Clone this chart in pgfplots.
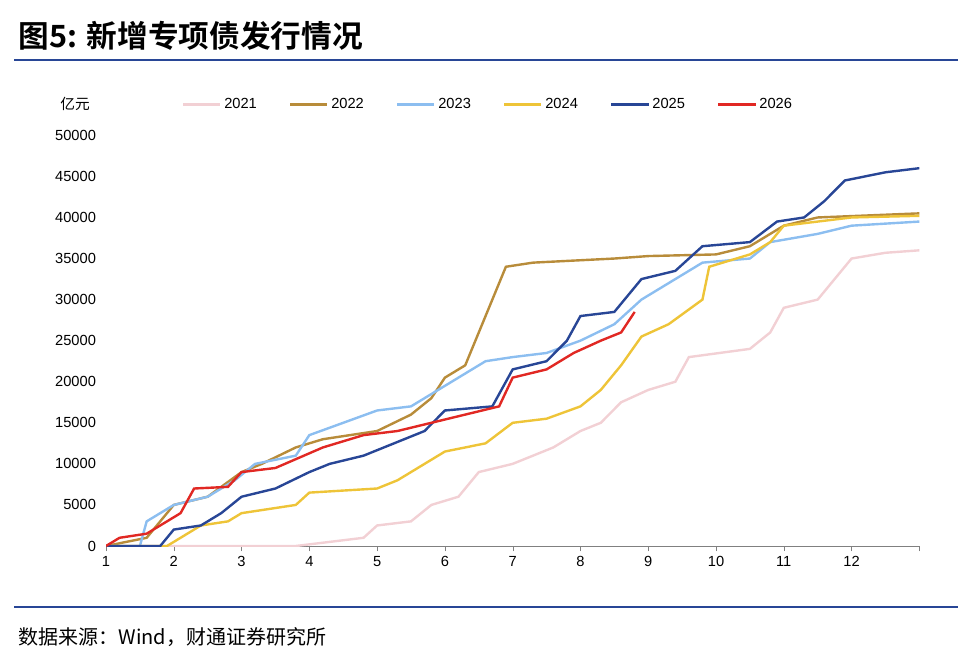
\documentclass[border=0pt]{standalone}
\usepackage{pgfplots}
\pgfplotsset{compat=1.18}
\usepackage{fontspec}
\setmainfont{Liberation Sans}
\newfontfamily\cjk{Noto Sans CJK SC}
\newfontfamily\cjkb{Noto Sans CJK SC Bold}
\definecolor{c21}{RGB}{242,208,212}
\definecolor{c22}{RGB}{184,140,58}
\definecolor{c23}{RGB}{140,190,240}
\definecolor{c24}{RGB}{238,196,56}
\definecolor{c25}{RGB}{40,70,150}
\definecolor{c26}{RGB}{225,40,35}
\definecolor{rule}{RGB}{40,70,150}
\begin{document}
\begin{tikzpicture}[x=0.75pt,y=0.75pt]
\path (0,0) rectangle (980,664);
\node[anchor=west] at (14,628) {\cjkb\fontsize{23}{26}\selectfont 图5: 新增专项债发行情况};
\draw[rule,line width=1.2pt] (14,604) -- (958,604);
\draw[rule,line width=1.2pt] (14,57) -- (958,57);
\node[anchor=west] at (14,27) {\cjk\fontsize{15}{18}\selectfont 数据来源：Wind，财通证券研究所};
\node at (75,560) {\cjk\fontsize{11}{13}\selectfont 亿元};
\begin{axis}[at={(79.5pt,88.5pt)},anchor=south west,scale only axis,width=610pt,height=308pt,
 xmin=1,xmax=13,ymin=0,ymax=50000,
 xtick={1,...,13},xticklabels={1,2,3,4,5,6,7,8,9,10,11,12,},ytick={0,5000,...,50000},
 axis x line*=bottom, axis y line*=left,
 x axis line style={-,gray}, y axis line style={draw=none},
 xtick style={gray}, ytick style={draw=none}, tick align=outside, major tick length=4pt,
 yticklabel style={font=\fontsize{11}{13}\selectfont},
 xticklabel style={font=\fontsize{11}{13}\selectfont},
 /pgf/number format/assume math mode=true,
 scaled y ticks=false, yticklabel={\pgfmathprintnumber[fixed,1000 sep={}]{\tick}},
 legend columns=6, legend style={draw=none,at={(0.47,1.075)},anchor=center,font=\fontsize{11}{13}\selectfont,/tikz/every even column/.append style={column sep=22pt}},
 legend image code/.code={\draw[#1,line width=1.8pt] (0pt,0pt) -- (28pt,0pt);},
 every axis plot/.append style={line width=1.8pt,mark=none}]
\addplot[c21] coordinates {(1,0)(3.8,0)(4.3,500)(4.8,1000)(5.0,2500)(5.5,3000)(5.8,5000)(6.2,6000)(6.5,9000)(7,10000)(7.3,11000)(7.6,12000)(8,14000)(8.3,15000)(8.6,17500)(9,19000)(9.4,20000)(9.6,23000)(10.5,24000)(10.8,26000)(11,29000)(11.5,30000)(11.8,33000)(12,35000)(12.5,35700)(13,36000)};
\addplot[c22] coordinates {(1,0)(1.6,1000)(2,5000)(2.5,6000)(3,9000)(3.3,10000)(3.8,12000)(4.2,13000)(5,14000)(5.5,16000)(5.8,18000)(6,20500)(6.3,22000)(6.7,30000)(6.9,34000)(7.3,34500)(8.5,35000)(9,35300)(10,35500)(10.5,36500)(11,39000)(11.5,40000)(13,40500)};
\addplot[c23] coordinates {(1,0)(1.5,0)(1.6,3000)(2,5000)(2.5,6000)(2.9,8000)(3.2,10000)(3.8,11000)(4.0,13500)(4.5,15000)(5,16500)(5.5,17000)(5.9,19000)(6.2,20500)(6.6,22500)(7,23000)(7.5,23500)(8,25000)(8.5,27000)(8.9,30000)(9.3,32000)(9.8,34500)(10.5,35000)(10.8,37000)(11.5,38000)(12,39000)(13,39500)};
\addplot[c24] coordinates {(1,0)(1.9,0)(2.1,1000)(2.4,2500)(2.8,3000)(3,4000)(3.8,5000)(4.0,6500)(5,7000)(5.3,8000)(5.6,9500)(6,11500)(6.6,12500)(7,15000)(7.5,15500)(8,17000)(8.3,19000)(8.6,22000)(8.9,25500)(9.3,27000)(9.8,30000)(9.9,34000)(10.5,35500)(10.8,37000)(11,39000)(12,40000)(13,40200)};
\addplot[c25] coordinates {(1,0)(1.8,0)(2,2000)(2.4,2500)(2.7,4000)(3,6000)(3.5,7000)(4,9000)(4.3,10000)(4.8,11000)(5.1,12000)(5.7,14000)(6,16500)(6.7,17000)(7,21500)(7.5,22500)(7.8,25000)(8,28000)(8.5,28500)(8.9,32500)(9.4,33500)(9.8,36500)(10.5,37000)(10.9,39500)(11.3,40000)(11.6,42000)(11.9,44500)(12.5,45500)(13,46000)};
\addplot[c26] coordinates {(1,0)(1.2,1000)(1.6,1500)(2.1,4000)(2.3,7000)(2.8,7200)(3,9000)(3.5,9500)(4.2,12000)(4.8,13500)(5.3,14000)(5.8,15000)(6.8,17000)(7.0,20500)(7.5,21500)(7.9,23500)(8.3,25000)(8.6,26000)(8.8,28500)};
\legend{2021,2022,2023,2024,2025,2026}
\end{axis}
\end{tikzpicture}
\end{document}
